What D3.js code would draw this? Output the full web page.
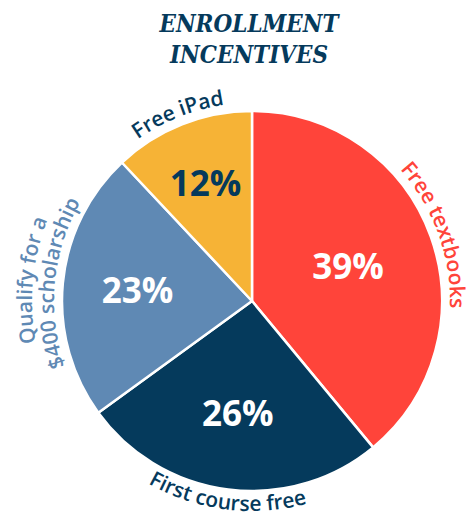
<!DOCTYPE html>
<html lang="en">
<head>
<meta charset="utf-8">
<title>Enrollment incentives</title>
<style>
  body { margin: 0; background: #fff; }
  svg { display: block; }
  .title { font-family: "DejaVu Serif", serif; font-weight: bold; font-style: italic; fill: #053a5c; }
  .pct { font-family: "Open Sans", sans-serif; font-weight: 700; }
  .cat { font-family: "Open Sans", sans-serif; font-weight: 600; }
</style>
</head>
<body>
<div id="chart"></div>
<script src="https://cdn.jsdelivr.net/npm/d3@7"></script>
<script>
// data
var titleLines = ["ENROLLMENT", "INCENTIVES"];
var categories = ["Free textbooks", "First course free", "Qualify for a $400 scholarship", "Free iPad"];
var categoryLines = [["Free textbooks"], ["First course free"], ["Qualify for a", "$400 scholarship"], ["Free iPad"]];
var values = [39, 26, 23, 12];

// layout / style
var width = 471, height = 518;
var cx = 252, cy = 301, radius = 190;
var colors = ["#ff443a", "#053a5c", "#5f89b4", "#f6b336"];
var labelColors = ["#ff443a", "#053a5c", "#5f89b4", "#053a5c"];
var pctColors = ["#ffffff", "#ffffff", "#ffffff", "#053a5c"];
var pctRadius = [102, 113, 115, 126];
var titleWidths = [179, 158];

var svg = d3.select("#chart").append("svg")
    .attr("width", width)
    .attr("height", height);

// title
svg.selectAll("text.title")
    .data(titleLines)
  .enter().append("text")
    .attr("class", "title")
    .attr("x", 249)
    .attr("y", function(d, i) { return 32 + i * 31; })
    .attr("text-anchor", "middle")
    .attr("font-size", 24)
    .attr("textLength", function(d, i) { return titleWidths[i]; })
    .attr("lengthAdjust", "spacingAndGlyphs")
    .text(function(d) { return d; });

var g = svg.append("g").attr("transform", "translate(" + cx + "," + cy + ")");

var pie = d3.pie().sort(null).value(function(d) { return d; });
var arc = d3.arc().innerRadius(0).outerRadius(radius);
var arcs = pie(values);

g.selectAll("path.slice")
    .data(arcs)
  .enter().append("path")
    .attr("class", "slice")
    .attr("d", arc)
    .attr("fill", function(d, i) { return colors[i]; })
    .attr("stroke", "#fff")
    .attr("stroke-width", 2.5)
    .attr("stroke-linejoin", "round");

// percentages
g.selectAll("text.pct")
    .data(arcs)
  .enter().append("text")
    .attr("class", "pct")
    .attr("x", function(d, i) { var m = (d.startAngle + d.endAngle) / 2; return pctRadius[i] * Math.sin(m); })
    .attr("y", function(d, i) { var m = (d.startAngle + d.endAngle) / 2; return -pctRadius[i] * Math.cos(m); })
    .attr("dy", "0.36em")
    .attr("text-anchor", "middle")
    .attr("font-size", 35)
    .attr("fill", function(d, i) { return pctColors[i]; })
    .text(function(d) { return d.value + "%"; });

// curved category labels (paths live in the same coords as g)
var defs = g.append("defs");
var span = 1.2;
arcs.forEach(function(d, i) {
  var mid = (d.startAngle + d.endAngle) / 2;
  var flip = mid > Math.PI / 2 && mid < 3 * Math.PI / 2;
  var lines = categoryLines[i];
  lines.forEach(function(line, j) {
    var r = flip ? 210 + j * 22 : 198 + (lines.length - 1 - j) * 22;
    var a0 = (flip ? mid + span : mid - span) - Math.PI / 2;
    var a1 = (flip ? mid - span : mid + span) - Math.PI / 2;
    var p = d3.path();
    p.moveTo(r * Math.cos(a0), r * Math.sin(a0));
    p.arc(0, 0, r, a0, a1, flip);
    var id = "lab" + i + "_" + j;
    defs.append("path").attr("id", id).attr("d", p.toString());
    g.append("text")
        .attr("class", "cat")
        .attr("font-size", 21)
        .attr("fill", labelColors[i])
      .append("textPath")
        .attr("href", "#" + id)
        .attr("startOffset", "50%")
        .attr("text-anchor", "middle")
        .text(line);
  });
});
</script>
</body>
</html>
